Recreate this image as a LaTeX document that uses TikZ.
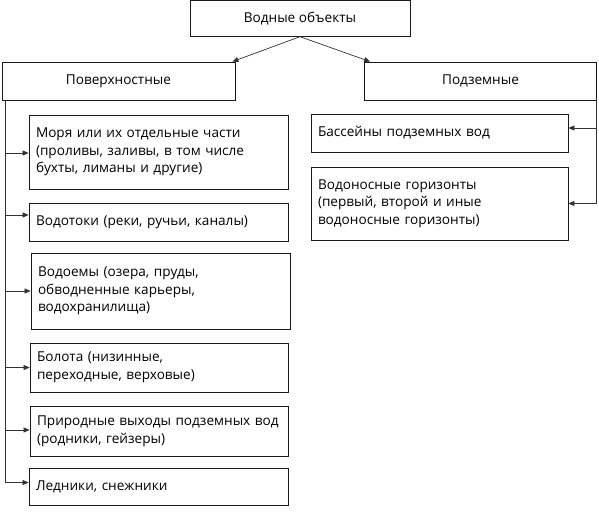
\documentclass[tikz,border=0pt]{standalone}
\usepackage{fontspec}
\setmainfont{Open Sans}
\usetikzlibrary{arrows.meta}
\tikzset{
  box/.style={draw=black!90, line width=0.8pt, fill=white, inner xsep=7pt, inner ysep=2pt, font=\fontsize{13.6}{17.7}\selectfont},
  cbox/.style={box, align=center},
  lbox/.style={box, align=left},
  arr/.style={draw=black!80, line width=0.7pt, -{Triangle[length=6pt,width=5pt]}},
  ln/.style={draw=black!80, line width=0.7pt}
}
\begin{document}
\begin{tikzpicture}[x=1pt,y=-1pt]
\useasboundingbox (0,0) rectangle (599,513);
% top
\node[cbox, minimum width=220pt, minimum height=36pt] (top) at (300,18.3) {Водные объекты};
\node[cbox, minimum width=233pt, minimum height=38pt] (pov) at (118.5,81) {Поверхностные};
\node[cbox, minimum width=232pt, minimum height=38pt] (pod) at (480.5,81) {Подземные};
% left boxes
\node[lbox, text width=245pt, minimum height=74pt] (s1) at (158.5,152) {Моря или их отдельные части\\(проливы, заливы, в том числе\\бухты, лиманы и другие)};
\node[lbox, text width=245pt, minimum height=38pt] (s2) at (158.5,222) {Водотоки (реки, ручьи, каналы)};
\node[lbox, text width=245pt, minimum height=76pt] (s3) at (160.5,291) {Водоемы (озера, пруды,\\обводненные карьеры,\\водохранилища)};
\node[lbox, text width=244pt, minimum height=49pt] (s4) at (159,367.5) {Болота (низинные,\\переходные, верховые)};
\node[lbox, text width=244pt, minimum height=50pt] (s5) at (159,431) {Природные выходы подземных вод\\(родники, гейзеры)};
\node[lbox, text width=245pt, minimum height=37pt] (s6) at (158.5,486.5) {Ледники, снежники};
% right boxes
\node[lbox, text width=243pt, minimum height=38pt] (u1) at (439.5,133) {Бассейны подземных вод};
\node[lbox, text width=243pt, minimum height=73pt] (u2) at (439.5,203.5) {Водоносные горизонты\\(первый, второй и иные\\водоносные горизонты)};
% connectors
\draw[arr] (top.south) -- ([xshift=-3pt]pov.north east);
\draw[arr] (top.south) -- ([xshift=6pt]pod.north west);
\coordinate (lt) at ([xshift=4pt]pov.south west);
\coordinate (rt) at ([xshift=-1pt]pod.south east);
\draw[arr] (lt) |- ([yshift=-1pt]s1.west);
\draw[arr] (lt) |- ([yshift=7pt]s2.west);
\draw[arr] (lt) |- (s3.west);
\draw[arr] (lt) |- (s4.west);
\draw[arr] (lt) |- ([yshift=1pt]s5.west);
\draw[arr] (lt) |- ([yshift=4pt]s6.west);
\draw[arr] (rt) |- ([yshift=5pt]u1.east);
\draw[arr] (rt) |- (u2.east);
\end{tikzpicture}
\end{document}
